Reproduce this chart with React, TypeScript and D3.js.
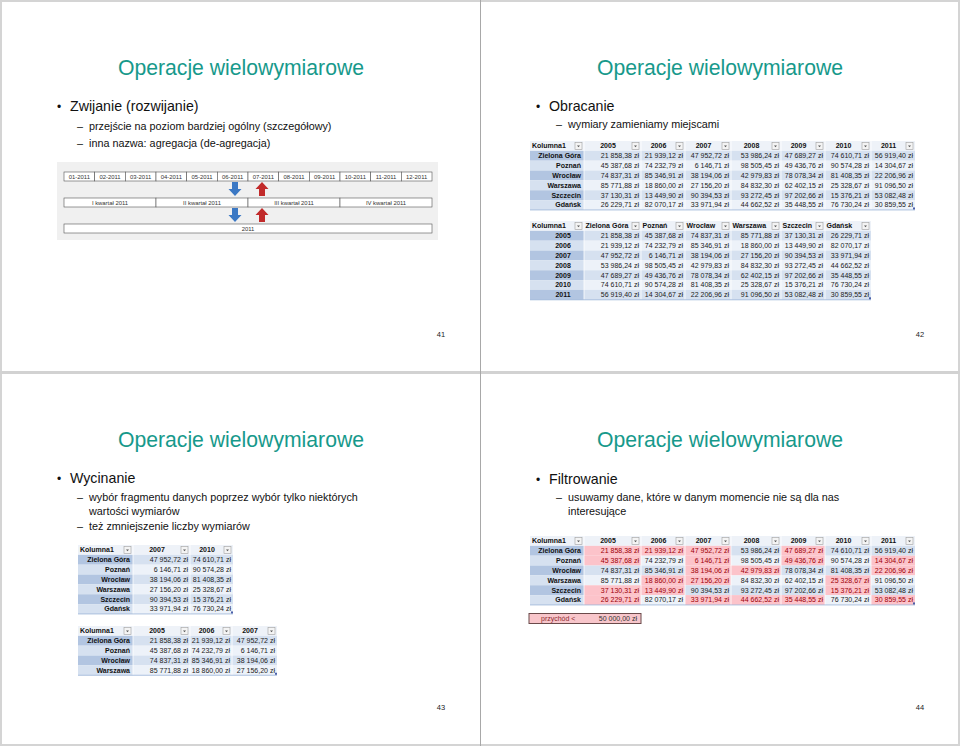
import React, { useEffect, useRef } from "react"
import * as d3 from "d3"

// dane z tabel (przychody wg miast i lat)
const years = ["2005", "2006", "2007", "2008", "2009", "2010", "2011"]
const cities = ["Zielona Góra", "Poznań", "Wrocław", "Warszawa", "Szczecin", "Gdańsk"]
const zielonaGora = [21858.38, 21939.12, 47952.72, 53986.24, 47689.27, 74610.71, 56919.4]
const poznan = [45387.68, 74232.79, 6146.71, 98505.45, 49436.76, 90574.28, 14304.67]
const wroclaw = [74837.31, 85346.91, 38194.06, 42979.83, 78078.34, 81408.35, 22206.96]
const warszawa = [85771.88, 18860.0, 27156.2, 84832.3, 62402.15, 25328.67, 91096.5]
const szczecin = [37130.31, 13449.9, 90394.53, 93272.45, 97202.66, 15376.21, 53082.48]
const gdansk = [26229.71, 82070.17, 33971.94, 44662.52, 35448.55, 76730.24, 30859.55]

const months = ["01-2011", "02-2011", "03-2011", "04-2011", "05-2011", "06-2011",
  "07-2011", "08-2011", "09-2011", "10-2011", "11-2011", "12-2011"]
const quarters = ["I kwartał 2011", "II kwartał 2011", "III kwartał 2011", "IV kwartał 2011"]
const yearTotal = ["2011"]

const sliceYears = ["2007", "2010"]
const diceYears = ["2005", "2006", "2007"]
const diceCities = ["Zielona Góra", "Poznań", "Wrocław", "Warszawa"]
const threshold = 50000
const pageNumbers = ["41", "42", "43", "44"]

const FONT = "Arial, 'Liberation Sans', Helvetica, sans-serif"
const TEAL = "#17998b"
const ROW_H = 9.85
// szerokosci kolumn arkusza (jak w Excelu)
const SHEET_COLS = [57, 44, 46, 50, 44, 46, 44]

const byCity = {
  "Zielona Góra": zielonaGora,
  "Poznań": poznan,
  "Wrocław": wroclaw,
  "Warszawa": warszawa,
  "Szczecin": szczecin,
  "Gdańsk": gdansk
}
const val = (city, year) => byCity[city][years.indexOf(year)]

const pl = d3.formatLocale({ decimal: ",", thousands: " ", grouping: [3], currency: ["", " zł"] })
const fmt = pl.format("$,.2f")

function dropdown(g, x, y) {
  g.append("rect").attr("x", x).attr("y", y).attr("width", 7).attr("height", 7)
    .attr("fill", "#f4f4f4").attr("stroke", "#a0a0a0").attr("stroke-width", 0.6)
  g.append("path").attr("d", `M${x + 2},${y + 3}L${x + 5},${y + 3}L${x + 3.5},${y + 4.8}Z`).attr("fill", "#555")
}

function table(svg, o) {
  const g = svg.append("g").attr("font-family", FONT).attr("font-size", 7)
  const nRows = o.rows.length + 1
  const y = d3.scaleBand().domain(d3.range(nRows)).range([o.top, o.top + nRows * ROW_H])
  const widths = o.widths.slice(0, o.cols.length)
  const starts = [0, ...d3.cumsum(widths)]
  const x0 = o.left + o.firstW
  const x = c => x0 + starts[o.cols.indexOf(c)]
  const w = c => widths[o.cols.indexOf(c)]
  const right = x0 + starts[o.cols.length]

  g.append("rect").attr("x", o.left).attr("y", o.top).attr("width", right - o.left)
    .attr("height", ROW_H).attr("fill", "#eef2f8")

  o.rows.forEach((r, i) => {
    const yy = y(i + 1)
    const odd = i % 2 === 0
    g.append("rect").attr("x", o.left).attr("y", yy).attr("width", o.firstW).attr("height", ROW_H)
      .attr("fill", odd ? "#b2c5e1" : "#d6e1f0")
    g.append("text")
      .attr("x", o.rowAnchor === "middle" ? o.left + o.firstW / 2 + 6 : o.left + o.firstW - 3)
      .attr("y", yy + ROW_H / 2).attr("dy", "0.35em").attr("text-anchor", o.rowAnchor)
      .attr("font-weight", "bold").attr("fill", "#111").text(r)
    o.cols.forEach(c => {
      const v = o.value(r, c)
      const hit = o.mark !== undefined && v < o.mark
      g.append("rect").attr("x", x(c)).attr("y", yy).attr("width", w(c)).attr("height", ROW_H)
        .attr("fill", hit ? "#fcc3ca" : odd ? "#d6e1f0" : "#edf2f9")
      g.append("text").attr("x", x(c) + w(c) - 2).attr("y", yy + ROW_H / 2).attr("dy", "0.35em")
        .attr("text-anchor", "end").attr("fill", hit ? "#9c0006" : "#222").text(fmt(v))
    })
  })

  // naglowki
  g.append("text").attr("x", o.left + 2).attr("y", o.top + ROW_H / 2).attr("dy", "0.35em")
    .attr("font-weight", "bold").attr("fill", "#111").text("Kolumna1")
  dropdown(g, o.left + o.firstW - 9, o.top + 1.4)
  o.cols.forEach(c => {
    g.append("text")
      .attr("x", o.headAnchor === "middle" ? x(c) + (w(c) - 9) / 2 : x(c) + 1.5)
      .attr("y", o.top + ROW_H / 2).attr("dy", "0.35em").attr("text-anchor", o.headAnchor)
      .attr("font-weight", "bold").attr("fill", "#111").text(c)
    dropdown(g, x(c) + w(c) - 9, o.top + 1.4)
  })

  // linie miedzy kolumnami
  g.selectAll("line.sep").data(o.cols).join("line").attr("class", "sep")
    .attr("x1", c => x(c)).attr("x2", c => x(c))
    .attr("y1", o.top).attr("y2", o.top + nRows * ROW_H)
    .attr("stroke", "#fff").attr("stroke-width", 0.8)
  g.append("line").attr("x1", o.left).attr("x2", right)
    .attr("y1", o.top + nRows * ROW_H).attr("y2", o.top + nRows * ROW_H)
    .attr("stroke", "#9ab4d8").attr("stroke-width", 0.8)
  g.append("rect").attr("x", right - 2).attr("y", o.top + nRows * ROW_H - 2.5).attr("width", 2).attr("height", 2)
    .attr("fill", "#4a5fa8")
}

function slideText(svg, cx, left, base, lines) {
  const g = svg.append("g").attr("font-family", FONT)
  g.append("text").attr("x", cx).attr("y", base).attr("text-anchor", "middle")
    .attr("font-size", 21.2).attr("fill", TEAL).text("Operacje wielowymiarowe")
  lines.forEach(l => {
    if (l.level === 0) {
      g.append("text").attr("x", left - 13).attr("y", l.y).attr("font-size", 12).attr("fill", "#111").text("•")
      g.append("text").attr("x", left).attr("y", l.y).attr("font-size", 14.2).attr("fill", "#111").text(l.t)
    } else {
      if (l.dash) {
        g.append("text").attr("x", left + 7).attr("y", l.y).attr("font-size", 10.8).attr("fill", "#111").text("–")
      }
      g.append("text").attr("x", left + 19).attr("y", l.y).attr("font-size", 10.8).attr("fill", "#111").text(l.t)
    }
  })
}

function arrow(g, cx, y0, down, color) {
  const h = 14
  const pts = down
    ? [[cx - 3, y0], [cx + 3, y0], [cx + 3, y0 + 7], [cx + 6.5, y0 + 7], [cx, y0 + h], [cx - 6.5, y0 + 7], [cx - 3, y0 + 7]]
    : [[cx - 3, y0 + h], [cx + 3, y0 + h], [cx + 3, y0 + 7], [cx + 6.5, y0 + 7], [cx, y0], [cx - 6.5, y0 + 7], [cx - 3, y0 + 7]]
  g.append("path").attr("d", d3.line()(pts) + "Z").attr("fill", color)
}

function App() {
  const ref = useRef(null)

  useEffect(() => {
    const svg = d3.select(ref.current)
    svg.selectAll("*").remove()

    svg.append("rect").attr("width", 960).attr("height", 746).attr("fill", "#fff")

    // slajd 41
    slideText(svg, 241, 70, 75, [
      { level: 0, y: 111, t: "Zwijanie (rozwijanie)" },
      { level: 1, dash: true, y: 129.5, t: "przejście na poziom bardziej ogólny (szczegółowy)" },
      { level: 1, dash: true, y: 146.5, t: "inna nazwa: agregacja (de-agregacja)" }
    ])
    const dg = svg.append("g").attr("font-family", FONT).attr("font-size", 5.9)
    dg.append("rect").attr("x", 57).attr("y", 162).attr("width", 381).attr("height", 78).attr("fill", "#f0f0f0")
    const levels = [
      { items: months, y: 172 },
      { items: quarters, y: 198 },
      { items: yearTotal, y: 224 }
    ]
    levels.forEach(lv => {
      const sx = d3.scaleBand().domain(lv.items).range([64, 432])
      dg.selectAll(null).data(lv.items).join("rect")
        .attr("x", d => sx(d)).attr("y", lv.y).attr("width", sx.bandwidth()).attr("height", 9)
        .attr("fill", "#fff").attr("stroke", "#555").attr("stroke-width", 0.6)
      dg.selectAll(null).data(lv.items).join("text")
        .attr("x", d => sx(d) + sx.bandwidth() / 2).attr("y", lv.y + 4.5).attr("dy", "0.35em")
        .attr("text-anchor", "middle").attr("fill", "#333").text(d => d)
    })
    const mx = d3.scaleBand().domain(months).range([64, 432])
    const split = mx("07-2011")
    arrow(dg, split - 13, 182, true, "#3b78c4")
    arrow(dg, split + 14, 182, false, "#c12a2a")
    arrow(dg, split - 13, 208, true, "#3b78c4")
    arrow(dg, split + 14, 208, false, "#c12a2a")

    // slajd 42
    slideText(svg, 720, 549, 75, [
      { level: 0, y: 110.5, t: "Obracanie" },
      { level: 1, dash: true, y: 128, t: "wymiary zamieniamy miejscami" }
    ])
    table(svg, {
      left: 530, firstW: 54, widths: SHEET_COLS, top: 141, cols: years, rows: cities,
      value: (r, c) => val(r, c), headAnchor: "middle", rowAnchor: "end"
    })
    table(svg, {
      left: 530, firstW: 54, widths: SHEET_COLS, top: 221, cols: cities, rows: years,
      value: (r, c) => val(c, r), headAnchor: "start", rowAnchor: "middle"
    })

    // slajd 43
    slideText(svg, 241, 70, 446.5, [
      { level: 0, y: 483, t: "Wycinanie" },
      { level: 1, dash: true, y: 500.5, t: "wybór fragmentu danych poprzez wybór tylko niektórych" },
      { level: 1, dash: false, y: 515, t: "wartości wymiarów" },
      { level: 1, dash: true, y: 530, t: "też zmniejszenie liczby wymiarów" }
    ])
    table(svg, {
      left: 78, firstW: 55, widths: [57, 43], top: 545, cols: sliceYears, rows: cities,
      value: (r, c) => val(r, c), headAnchor: "middle", rowAnchor: "end"
    })
    table(svg, {
      left: 78, firstW: 55, widths: [57, 42, 45], top: 626, cols: diceYears, rows: diceCities,
      value: (r, c) => val(r, c), headAnchor: "middle", rowAnchor: "end"
    })

    // slajd 44
    slideText(svg, 720, 549, 446.5, [
      { level: 0, y: 484, t: "Filtrowanie" },
      { level: 1, dash: true, y: 500.5, t: "usuwamy dane, które w danym momencie nie są dla nas" },
      { level: 1, dash: false, y: 515, t: "interesujące" }
    ])
    table(svg, {
      left: 530, firstW: 54, widths: SHEET_COLS, top: 536, cols: years, rows: cities,
      value: (r, c) => val(r, c), headAnchor: "middle", rowAnchor: "end", mark: threshold
    })
    const fg = svg.append("g").attr("font-family", FONT).attr("font-size", 7)
    fg.append("rect").attr("x", 529).attr("y", 613.5).attr("width", 112).attr("height", 10)
      .attr("fill", "#f8c6cb").attr("stroke", "#6b4a4a").attr("stroke-width", 1)
    fg.append("text").attr("x", 541).attr("y", 618.5).attr("dy", "0.35em").attr("fill", "#8c2a30").text("przychód <")
    fg.append("text").attr("x", 637).attr("y", 618.5).attr("dy", "0.35em").attr("text-anchor", "end")
      .attr("fill", "#333").text(fmt(threshold))

    // numery stron
    const pages = [[441, 337], [920, 337], [441, 710], [920, 710]]
    svg.append("g").attr("font-family", FONT).attr("font-size", 7.5).attr("fill", "#222")
      .selectAll("text").data(pageNumbers).join("text")
      .attr("x", (d, i) => pages[i][0]).attr("y", (d, i) => pages[i][1])
      .attr("text-anchor", "middle").text(d => d)

    // ramki slajdow
    svg.append("rect").attr("x", 1).attr("y", 1).attr("width", 958).attr("height", 744)
      .attr("fill", "none").attr("stroke", "#d4d4d4").attr("stroke-width", 2)
    svg.append("line").attr("x1", 0).attr("x2", 960).attr("y1", 372.5).attr("y2", 372.5)
      .attr("stroke", "#d2d2d2").attr("stroke-width", 3)
    svg.append("line").attr("x1", 480.5).attr("x2", 480.5).attr("y1", 0).attr("y2", 746)
      .attr("stroke", "#a8a8a8").attr("stroke-width", 1)
  }, [])

  return (
    <div style={{ position: "absolute", left: 0, top: 0 }}>
      <svg ref={ref} width={960} height={746} style={{ display: "block" }} />
    </div>
  )
}

export default App
